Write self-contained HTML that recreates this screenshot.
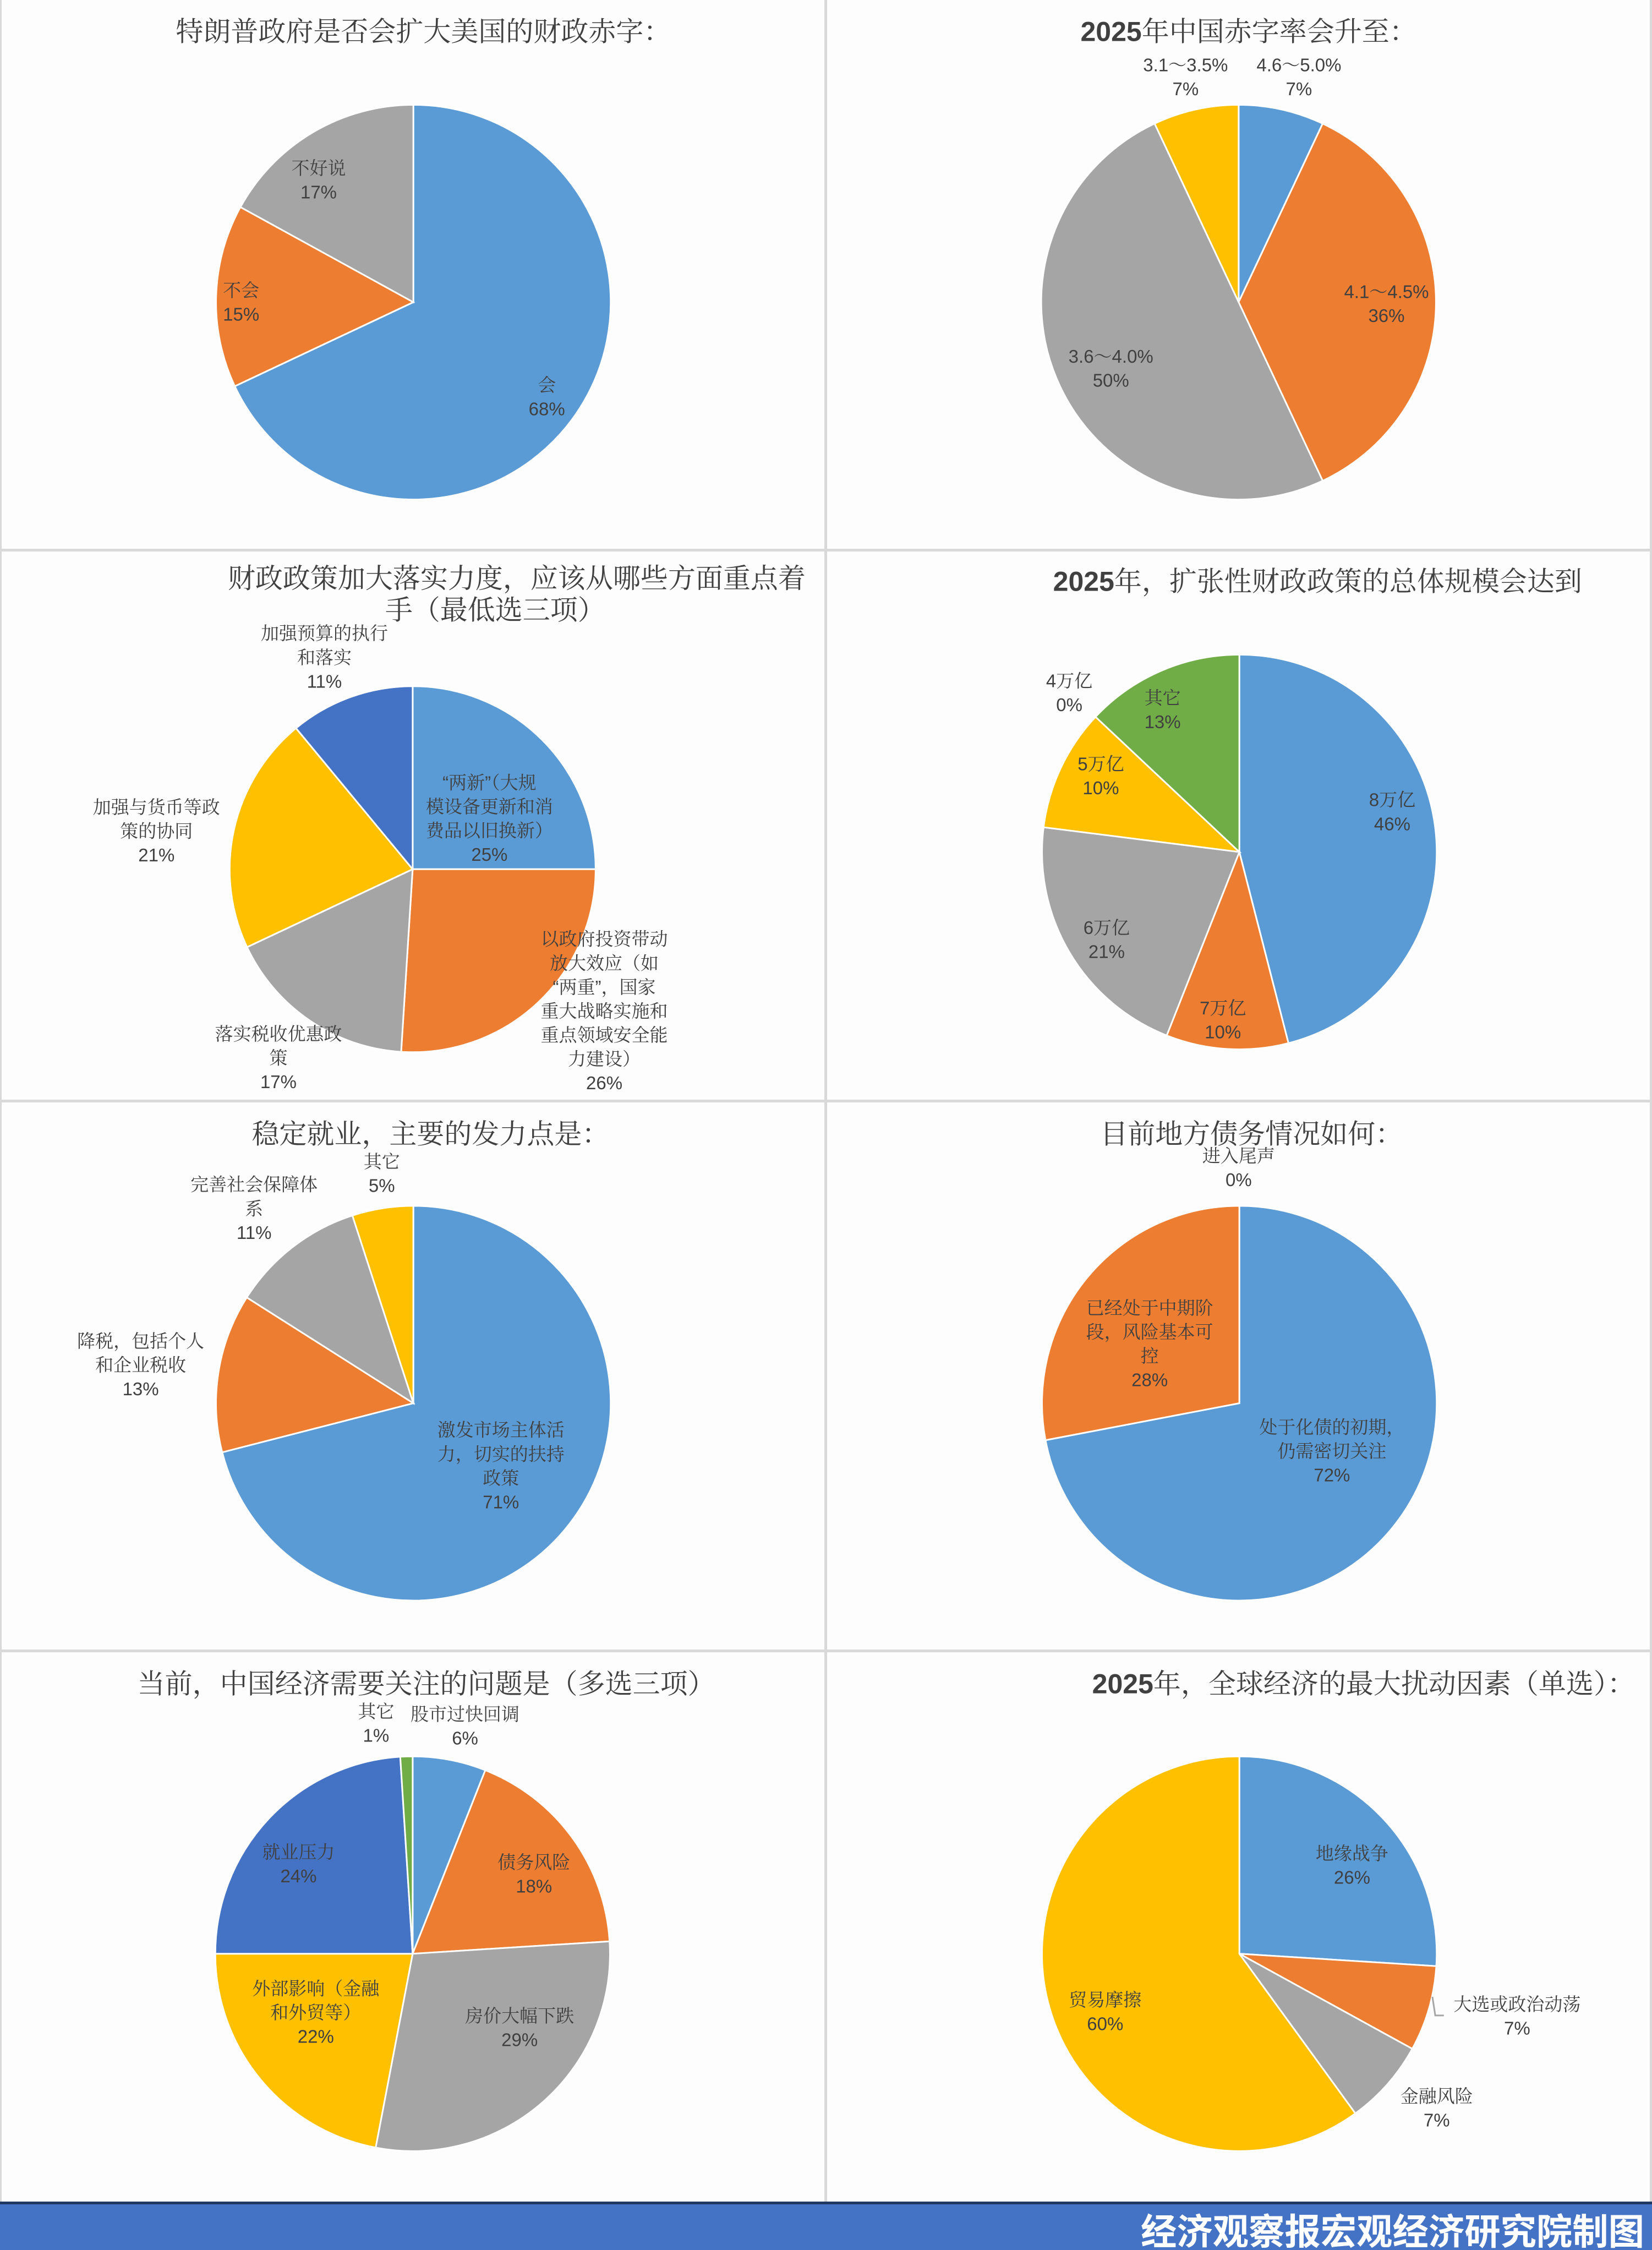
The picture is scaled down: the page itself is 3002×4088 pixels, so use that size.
<!DOCTYPE html>
<html><head><meta charset="utf-8">
<style>
html,body{margin:0;padding:0;background:#fff;}
svg{display:block;}
.t{font-family:"Noto Serif CJK SC","Liberation Serif",serif;fill:#404040;font-size:50px;}
.t .b{font-family:"Liberation Sans","Noto Sans CJK SC",sans-serif;font-weight:bold;}
.l{font-family:"Liberation Sans","Noto Serif CJK SC",serif;fill:#404040;font-size:33px;}
</style></head>
<body>
<svg id="chart" xmlns="http://www.w3.org/2000/svg" width="3002" height="4088" viewBox="0 0 3002 4088">
<rect x="0" y="0" width="3002" height="4088" fill="#fdfdfd"/>
<g>
<rect x="1498" y="0" width="5" height="4002" fill="#d9d9d9"/>
<rect x="0" y="997" width="3002" height="5" fill="#d9d9d9"/>
<rect x="0" y="1998" width="3002" height="5" fill="#d9d9d9"/>
<rect x="0" y="2997" width="3002" height="5" fill="#d9d9d9"/>
<rect x="0" y="0" width="3" height="4002" fill="#d9d9d9"/>
<rect x="2998" y="0" width="4" height="4002" fill="#d9d9d9"/>
</g>
<g>
<rect x="0" y="4000" width="3002" height="88" fill="#4472c4"/>
<rect x="0" y="4000" width="3002" height="5" fill="#1f3864"/>
<text x="2988" y="4078" text-anchor="end" font-family="'Noto Sans CJK SC','WenQuanYi Zen Hei',sans-serif" font-weight="bold" font-size="66" fill="#fff" textLength="915" lengthAdjust="spacingAndGlyphs">经济观察报宏观经济研究院制图</text>
</g>
<g id="charts"></g>
</svg>
<script>
// ---- data ----
const names1 = [["会"],["不会"],["不好说"]];
const values1 = [68,15,17];
const names2 = [["4.6～5.0%"],["4.1～4.5%"],["3.6～4.0%"],["3.1～3.5%"]];
const values2 = [7,36,50,7];
const names3 = [["“两新”（大规","模设备更新和消","费品以旧换新）"],["以政府投资带动","放大效应（如","“两重”，国家","重大战略实施和","重点领域安全能","力建设）"],["落实税收优惠政","策"],["加强与货币等政","策的协同"],["加强预算的执行","和落实"]];
const values3 = [25,26,17,21,11];
const names4 = [["8万亿"],["7万亿"],["6万亿"],["5万亿"],["4万亿"],["其它"]];
const values4 = [46,10,21,10,0,13];
const names5 = [["激发市场主体活","力，切实的扶持","政策"],["降税，包括个人","和企业税收"],["完善社会保障体","系"],["其它"]];
const values5 = [71,13,11,5];
const names6 = [["处于化债的初期，","仍需密切关注"],["已经处于中期阶","段，风险基本可","控"],["进入尾声"]];
const values6 = [72,28,0];
const names7 = [["股市过快回调"],["债务风险"],["房价大幅下跌"],["外部影响（金融","和外贸等）"],["就业压力"],["其它"]];
const values7 = [6,18,29,22,24,1];
const names8 = [["地缘战争"],["大选或政治动荡"],["金融风险"],["贸易摩擦"]];
const values8 = [26,7,7,60];

// ---- layout (display units, scaled by S) ----
const S = 3002/1151;
const C = {blue:"#5b9bd5",orange:"#ed7d31",gray:"#a5a5a5",yellow:"#ffc000",dblue:"#4472c4",green:"#70ad47"};
const charts = [
 {names:names1,values:values1,cx:288,cy:210.5,r:137.5,cols:[C.blue,C.orange,C.gray],
  lab:[[381,268],[168,202],[222,117]],
  title:[[295,22,'特朗普政府是否会扩大美国的财政赤字：']]},
 {names:names2,values:values2,cx:863,cy:210.5,r:137.5,cols:[C.blue,C.orange,C.gray,C.yellow],
  lab:[[905,45],[966,203],[774,248],[826,45]],
  title:[[870,22,'<tspan class="b">2025</tspan>年中国赤字率会升至：']]},
 {names:names3,values:values3,cx:287.5,cy:605.5,r:127.5,cols:[C.blue,C.orange,C.gray,C.yellow,C.dblue],
  lab:[[341,545],[421,654],[194,720],[109,562],[226,441]],
  title:[[360,403,'财政政策加大落实力度，应该从哪些方面重点着'],[345,425,'手（最低选三项）']]},
 {names:names4,values:values4,cx:863.5,cy:593.5,r:137.5,cols:[C.blue,C.orange,C.gray,C.yellow,C.dblue,C.green],
  lab:[[970,557],[852,702],[771,646],[767,532],[745,474],[810,486]],
  title:[[918,405,'<tspan class="b">2025</tspan>年，扩张性财政政策的总体规模会达到']]},
 {names:names5,values:values5,cx:288,cy:977.5,r:137.5,cols:[C.blue,C.orange,C.gray,C.yellow],
  lab:[[349,996],[98,934],[177,825],[266,809]],
  title:[[300,790,'稳定就业，主要的发力点是：']]},
 {names:names6,values:values6,cx:863.5,cy:977.5,r:137.5,cols:[C.blue,C.orange,C.gray],
  lab:[[928,994],[801,911],[863,805]],
  title:[[872,790,'目前地方债务情况如何：']]},
 {names:names7,values:values7,cx:287.5,cy:1361,r:137.5,cols:[C.blue,C.orange,C.gray,C.yellow,C.dblue,C.green],
  lab:[[324,1194],[372,1297],[362,1404],[220,1385],[208,1290],[262,1192]],
  title:[[297,1173,'当前，中国经济需要关注的问题是（多选三项）']]},
 {names:names8,values:values8,cx:863.5,cy:1361,r:137.5,cols:[C.blue,C.orange,C.gray,C.yellow],
  lab:[[942,1291],[1057,1396],[1001,1460],[770,1393]],
  title:[[950,1173,'<tspan class="b">2025</tspan>年，全球经济的最大扰动因素（单选）：']]}
];
const NS="http://www.w3.org/2000/svg";
const root=document.getElementById('charts');
function mk(tag,attrs,parent){const e=document.createElementNS(NS,tag);for(const k in attrs)e.setAttribute(k,attrs[k]);parent.appendChild(e);return e;}
charts.forEach((ch,ci)=>{
  const g=mk('g',{},root);
  
  
  ch.title.forEach(t=>{
    const te=mk('text',{x:t[0]*S,y:t[1]*S+17,'text-anchor':'middle','class':'t'},g);
    
    
    te.innerHTML=t[2];
  });
  const total=ch.values.reduce((a,b)=>a+b,0);
  const cx=ch.cx*S, cy=ch.cy*S, r=ch.r*S;
  let a0=-Math.PI/2;
  ch.values.forEach((v,i)=>{
    const a1=a0+v/total*2*Math.PI;
    if(v>0){
      const x0=cx+r*Math.cos(a0),y0=cy+r*Math.sin(a0),x1=cx+r*Math.cos(a1),y1=cy+r*Math.sin(a1);
      const large=(a1-a0)>Math.PI?1:0;
      const p=mk('path',{d:`M${cx},${cy} L${x0},${y0} A${r},${r} 0 ${large} 1 ${x1},${y1} Z`,fill:ch.cols[i],stroke:'#fff','stroke-width':3},g);
      
      
    }
    a0=a1;
  });
  ch.values.forEach((v,i)=>{
    const lines=ch.names[i].concat([v+'%']);
    const [lx,ly]=ch.lab[i];
    const te=mk('text',{'class':'l','text-anchor':'middle'},g);
    
    
    lines.forEach((ln,k)=>{
      const ts=mk('tspan',{x:lx*S,y:(ly+k*16.7)*S+12},te);
      ts.textContent=ln;
    });
  });
});
// leader line for chart 8 small slice
const ll=mk('polyline',{points:`${998*S},${1391*S} ${1000*S},${1404*S} ${1006*S},${1404*S}`,fill:'none',stroke:'#a6a6a6','stroke-width':3},root);


</script>
</body></html>
